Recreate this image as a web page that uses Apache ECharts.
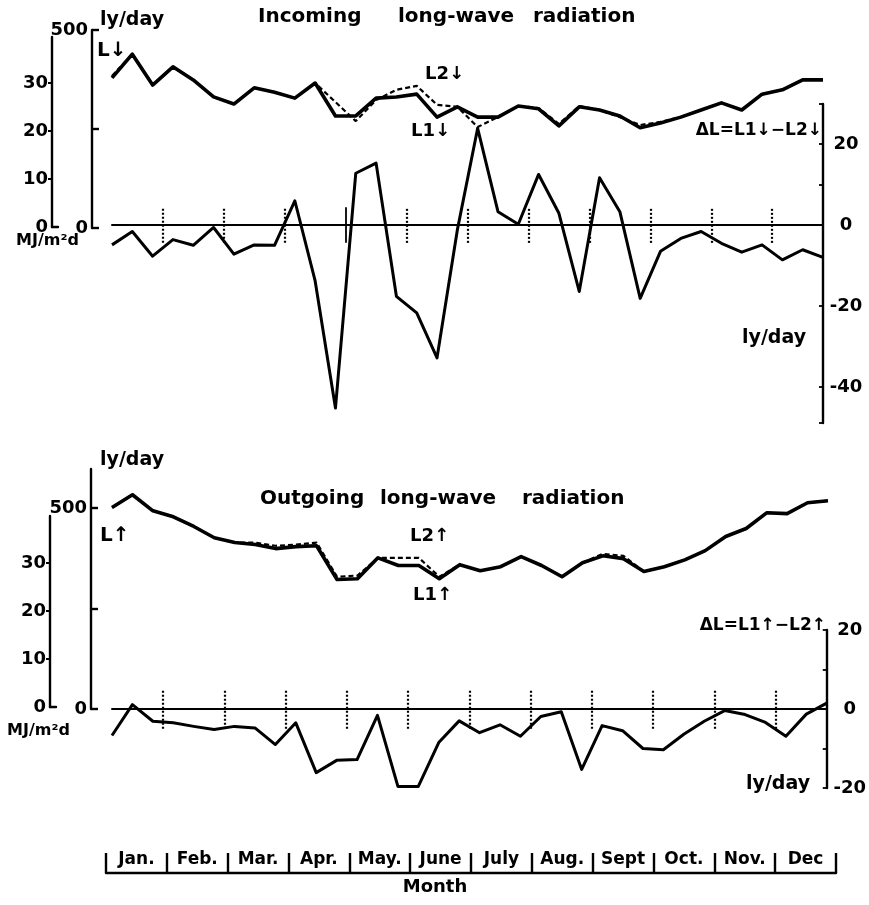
<!DOCTYPE html>
<html><head><meta charset="utf-8">
<script src="https://cdn.jsdelivr.net/npm/echarts@6/dist/echarts.min.js"></script>
<style>html,body{margin:0;padding:0;background:#fff}#c{width:869px;height:905px}</style>
</head><body><div id="c"></div>
<script>
// ---- data (10-day periods, 3 per month) ----
const months = ['Jan.','Feb.','Mar.','Apr.','May.','June','July','Aug.','Sept','Oct.','Nov.','Dec'];
// Incoming long-wave (ly/day)
const L1down = [379,439,361,407,374,331,313,354,343,328,366,283,283,328,331,338,280,306,280,280,308,301,258,306,298,283,253,265,280,298,316,298,338,349,374,374];
const L2down = [384,439,361,407,374,331,313,354,343,328,366,318,270,323,349,359,311,306,255,280,308,303,263,308,298,280,260,268,280,298,316,298,338,349,374,374];
const dLdown = [-4.9,-1.6,-7.7,-3.6,-5.0,-0.6,-7.2,-4.9,-5.0,6.0,-13.8,-45.2,12.8,15.3,-17.6,-21.7,-32.8,-1.2,23.9,3.3,0.2,12.5,2.9,-16.4,11.7,3.3,-18.1,-6.5,-3.3,-1.6,-4.5,-6.7,-4.9,-8.6,-6.1,-8.0];
// Outgoing long-wave (ly/day)
const L1up = [501,533,493,478,454,426,414,409,399,404,406,322,324,376,357,357,324,359,344,354,379,357,329,364,381,374,342,354,371,394,429,449,488,486,513,518];
const L2up = [501,533,493,478,454,426,414,414,406,409,414,329,332,376,376,376,329,359,344,354,379,357,329,364,386,381,342,354,371,394,429,449,488,486,513,518];
const dLup = [-6.7,1.1,-3.1,-3.5,-4.4,-5.2,-4.4,-4.8,-9.0,-3.5,-16.1,-13.0,-12.8,-1.6,-19.6,-19.6,-8.5,-3.0,-6.0,-4.0,-6.9,-1.9,-0.7,-15.3,-4.2,-5.5,-10.0,-10.3,-6.4,-3.1,-0.4,-1.4,-3.4,-6.9,-1.3,1.5];
// tick labels
const mjTicks = [0,10,20,30];
const lyTicks = [0,250,500];
const lyLabels = [0,500];
const dTopLabels = [-40,-20,0,20];
const dBotLabels = [-20,0,20];

// ---- helpers ----
const pts = arr => arr.map((v,i)=>[i+0.5, v]);
const bounds = months.slice(1).map((m,k)=>(k+1)*3);
const FONT = '"DejaVu Sans", sans-serif';
const BLK = '#000';
const lbl = (size)=>({color:BLK, fontFamily:FONT, fontWeight:'bold', fontSize:size});

function boundLines(half, solidAt){
  return bounds.map(b=>[
    {coord:[b,-half], lineStyle:{type: b===solidAt ? 'solid':[2,2], width: b===solidAt?1.8:2.2, color:BLK}},
    {coord:[b,half]}
  ]);
}
const hidden = {show:false};
function xData(gi, onZeroLine){
  return {gridIndex:gi, type:'value', min:0.5, max:35.5, show: !!onZeroLine,
    axisLine:{show:!!onZeroLine, onZero:true, lineStyle:{color:BLK,width:2}},
    axisTick:hidden, axisLabel:hidden, splitLine:hidden};
}
function xFoot(gi){
  return {gridIndex:gi, type:'value', min:0, max:1,
    axisLine:{show:true, onZero:false, lineStyle:{color:BLK,width:2.4}},
    axisTick:hidden, axisLabel:hidden, splitLine:hidden};
}
function mjAxis(gi, max){
  return {gridIndex:gi, type:'value', min:0, max:max, position:'left',
    axisLine:{show:true, lineStyle:{color:BLK,width:2.4}},
    axisTick:{show:true, length:4, customValues:mjTicks.slice(1), lineStyle:{color:BLK,width:2}},
    axisLabel:{show:true, customValues:mjTicks, margin:4, ...lbl(18)},
    splitLine:hidden};
}
function lyAxis(gi, max){
  return {gridIndex:gi, type:'value', min:0, max:max, position:'left', offset:20,
    axisLine:{show:true, lineStyle:{color:BLK,width:2.4}},
    axisTick:{show:true, inside:true, length:7, customValues:lyTicks, lineStyle:{color:BLK,width:2.4}},
    axisLabel:{show:true, customValues:lyLabels, margin:4, ...lbl(18)},
    splitLine:hidden};
}
function dAxis(gi, min, max, tickVals, labelVals){
  return {gridIndex:gi, type:'value', min:min, max:max, position:'right',
    axisLine:{show:true, lineStyle:{color:BLK,width:2.4}},
    axisTick:{show:true, inside:true, length:4, customValues:tickVals, lineStyle:{color:BLK,width:1.8}},
    axisLabel:{show:true, customValues:labelVals, margin:23, align:'center', ...lbl(18)},
    splitLine:hidden};
}
function solid(name, xi, yi, data, w){
  return {name, type:'line', xAxisIndex:xi, yAxisIndex:yi, data:pts(data), symbol:'none',
    lineStyle:{color:BLK, width:w, type:'solid', join:'round'}, z:3, silent:true, animation:false};
}
function dashed(name, xi, yi, data){
  return {name, type:'line', xAxisIndex:xi, yAxisIndex:yi, data:pts(data), symbol:'none',
    lineStyle:{color:BLK, width:2.2, type:[5,3]}, z:4, silent:true, animation:false};
}
function txt(x, y, text, size, align){
  return {type:'text', x, y, silent:true,
    style:{text, fill:BLK, font:'bold '+size+'px '+FONT, align:align||'left', verticalAlign:'top'}};
}

const DT_MIN = -48.9, DT_MAX = 29.9;

const option = {
  backgroundColor:'#fff',
  animation:false,
  grid:[
    {left:52, top:37, width:6, height:190},    // 0 MJ top
    {left:112, top:30, width:711, height:198}, // 1 L top (ly/day)
    {left:112, top:104, width:711, height:319},// 2 dL top
    {left:50, top:516, width:6, height:191},   // 3 MJ bottom
    {left:112, top:469, width:716, height:240},// 4 L bottom (ly/day)
    {left:112, top:630, width:716, height:158},// 5 dL bottom
    {left:106, top:872, width:730, height:1}   // 6 months
  ],
  xAxis:[
    xFoot(0), xData(1,false), xData(2,true), xFoot(3), xData(4,false), xData(5,true),
    {gridIndex:6, type:'category', data:months, position:'top', boundaryGap:true,
      axisLine:{show:true, lineStyle:{color:BLK,width:2.4}},
      axisTick:{show:true, length:20, interval:0, lineStyle:{color:BLK,width:2.4}},
      axisLabel:{show:true, interval:0, margin:4, ...lbl(17)},
      splitLine:hidden}
  ],
  yAxis:[
    mjAxis(0, 190/4.8),
    lyAxis(1, 500),
    dAxis(2, DT_MIN, DT_MAX, [DT_MIN,-40,-20,0,10,20,DT_MAX], dTopLabels),
    mjAxis(3, 191/4.8),
    Object.assign(lyAxis(4, 240/0.402), {offset:21}),
    dAxis(5, -20, 20, [-20,-10,0,10,20], dBotLabels),
    {gridIndex:6, type:'value', show:false}
  ],
  series:[
    solid('L1 in', 1, 1, L1down, 3.6),
    dashed('L2 in', 1, 1, L2down),
    Object.assign(solid('dL in', 2, 2, dLdown, 3), {
      markLine:{silent:true, symbol:'none', label:{show:false}, animation:false,
        data: boundLines(4.4, 12)}}),
    solid('L1 out', 4, 4, L1up, 3.6),
    dashed('L2 out', 4, 4, L2up),
    Object.assign(solid('dL out', 5, 5, dLup, 3), {
      markLine:{silent:true, symbol:'none', label:{show:false}, animation:false,
        data: boundLines(5, null)}})
  ],
  graphic:[
    // top panel
    txt(100, 11, 'ly/day', 19),
    txt(258, 7, 'Incoming', 20),
    txt(398, 7, 'long-wave', 20),
    txt(533, 7, 'radiation', 20),
    txt(97, 41, 'L\u2193', 20),
    txt(425, 65, 'L2\u2193', 18),
    txt(411, 122, 'L1\u2193', 18),
    txt(822, 122, '\u0394L=L1\u2193\u2212L2\u2193', 17, 'right'),
    txt(742, 329, 'ly/day', 19),
    txt(16, 233, 'MJ/m\u00B2d', 16),
    // bottom panel
    txt(100, 451, 'ly/day', 19),
    txt(260, 489, 'Outgoing', 20),
    txt(380, 489, 'long-wave', 20),
    txt(522, 489, 'radiation', 20),
    txt(100, 526, 'L\u2191', 20),
    txt(410, 527, 'L2\u2191', 18),
    txt(413, 586, 'L1\u2191', 18),
    txt(826, 617, '\u0394L=L1\u2191\u2212L2\u2191', 17, 'right'),
    txt(746, 775, 'ly/day', 19),
    txt(7, 723, 'MJ/m\u00B2d', 16),
    // x title
    txt(435, 878, 'Month', 18, 'center')
  ]
};
const chart = echarts.init(document.getElementById('c'), null, {renderer:'canvas'});
chart.setOption(option);
</script>
</body></html>
